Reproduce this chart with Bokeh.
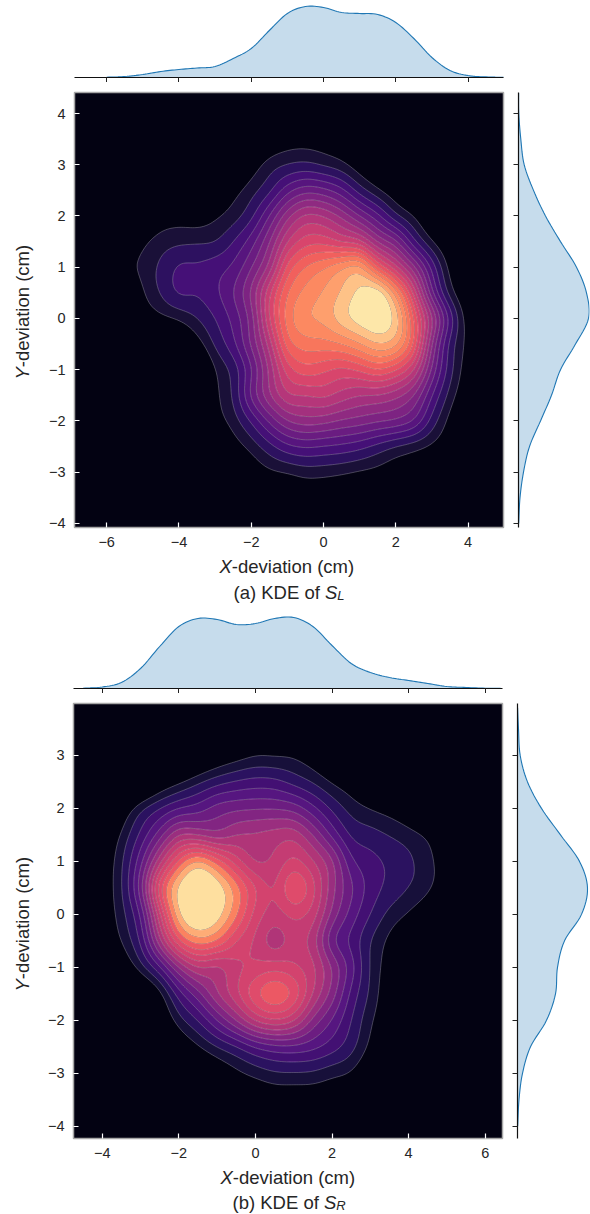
import math
import numpy as np
from bokeh.embed import file_html
from bokeh.layouts import column, row
from bokeh.models import FixedTicker, Label, Range1d, Spacer
from bokeh.plotting import figure
from bokeh.resources import INLINE

# ---- Panel (a): density level at each grid node ----
a_x = [-6,-5.5,-5,-4.5,-4,-3.5,-3,-2.5,-2,-1.5,-1,-.5,0,.5,1,1.5,2,2.5,3,3.5,4,4.5,5]
a_y = [4,3.5,3,2.5,2,1.5,1,.5,0,-.5,-1,-1.5,-2,-2.5,-3,-3.5,-4]
a_levels = [
 [-3,-3,-3,-3,-3,-3,-3,-3,-3,-3,-2.5,-2,-2.5,-3,-3,-3,-3,-3,-3,-3,-3,-3,-3],
 [-3,-3,-3,-3,-3,-3,-3,-3,-1.5,-.5,.2,.35,.1,-.5,-1.5,-2.5,-3,-3,-3,-3,-3,-3,-3],
 [-3,-3,-3,-3,-3,-3,-3,-1.5,.2,1.5,2,2.2,1.8,1.3,.2,-1,-2.5,-3,-3,-3,-3,-3,-3],
 [-3,-3,-3,-3,-3,-2,-.8,.5,1.6,2.7,4.6,5.6,5.3,4.3,2.5,1.2,0,-1.5,-3,-3,-3,-3,-3],
 [-3,-2,-1,0,.3,.2,.8,1.5,2.7,5,7.7,9.3,9,7.8,6,4.3,2.2,1,-1,-3,-3,-3,-3],
 [-2.5,-.8,.7,1.5,1.75,1.85,1.95,3,4.5,6.9,10,11.5,11.6,10.8,10.3,7.8,6.3,3.2,1.1,-.6,-2.5,-3,-3],
 [-1,.4,1.4,2.2,3.2,3.2,3.6,4.2,5.9,8.3,12.4,14.1,14.9,15.9,16.5,13,10.3,7.3,3.7,.6,-1.5,-3,-3],
 [-3,-1.5,.9,2.1,3.2,3.1,3.8,5,7.2,10.8,14,15.3,16.1,17.1,18.3,18.9,15.6,10.8,5.2,1.5,-.5,-2.5,-3],
 [-3,-1.5,-.2,.7,1.2,2,3,4.3,6.4,11,14.5,15.9,16.3,17.6,18.6,19.2,17.7,13,8.3,3.7,.3,-1,-3],
 [-3,-3,-3,-2.5,-1.2,.4,2.2,3.7,6.2,9.4,13.6,14.5,14.6,15,15.9,17,16.4,13,7,2.6,.6,-1.5,-3],
 [-3,-3,-3,-3,-3,-1.5,1,2.3,4.8,8.2,11.5,12.6,12.2,11.7,12.2,13,12.1,10.1,5.8,2.4,.2,-2,-3],
 [-3,-3,-3,-3,-3,-2,.7,2.1,5.3,7.9,9.9,10,10.3,9.6,9,8.9,8.3,7,4,1.6,-.3,-2,-3],
 [-3,-3,-3,-3,-3,-1.5,.3,1.5,3.1,5.2,7,7.6,7.4,6.9,6.6,6.2,5.9,5,2.6,.6,-1.5,-3,-3],
 [-3,-3,-3,-3,-3,-3,-1.5,.3,1.4,2.6,3.7,4.1,3.9,3.7,3.3,2.6,1.9,1.4,.8,-.4,-2.5,-3,-3],
 [-3,-3,-3,-3,-3,-3,-3,-1.5,-.1,.8,1.1,1.45,1.4,1.2,.9,.6,0,-.5,-1.5,-3,-3,-3,-3],
 [-3,-3,-3,-3,-3,-3,-3,-3,-2,-1.5,-1,-.4,-.5,-.8,-1.2,-1.5,-2,-3,-3,-3,-3,-3,-3],
 [-3,-3,-3,-3,-3,-3,-3,-3,-3,-3,-3,-2.5,-2.5,-3,-3,-3,-3,-3,-3,-3,-3,-3,-3],
]
a_fill = ["#1a1038","#2d1160","#451077","#57157e","#6a1c81","#7d2382","#8f2a81","#a3307e","#b5367a",
          "#c83e73","#d8456c","#e75263","#f1605d","#f8765c","#fc8961","#fe9f6d","#fec287","#fde7a9"]

# ---- Panel (b) ----
b_x = [-4.5,-4,-3.5,-3,-2.5,-2,-1.5,-1,-.5,0,.5,1,1.5,2,2.5,3,3.5,4,4.5,5,5.5]
b_y = [4,3.5,3,2.5,2,1.5,1,.5,0,-.5,-1,-1.5,-2,-2.5,-3,-3.5,-4]
b_levels = [
 [-3,-3,-3,-3,-3,-3,-3,-3,-3,-3,-3,-3,-3,-3,-3,-3,-3,-3,-3,-3,-3],
 [-3,-3,-3,-3,-3,-3,-3,-2.5,-2,-1,-1,-1.5,-2.5,-3,-3,-3,-3,-3,-3,-3,-3],
 [-3,-3,-3,-3,-3,-2.5,-1.3,-.3,.4,.95,.9,.85,0,-1.3,-3,-3,-3,-3,-3,-3,-3],
 [-3,-3,-3,-2,-.3,.8,1.8,2.6,3.1,3.4,3.3,2.6,1.9,.9,0,-1.3,-3,-3,-3,-3,-3],
 [-3,-3,-.3,1.8,3,4,4.5,5.5,5.8,5.9,5.9,5.6,4.3,2.8,1.6,1,.4,-.5,-2,-3,-3],
 [-3,-1,1.2,3.2,5.5,8,7.8,7.2,8,8.2,8.5,8.7,7,4.7,2.8,2.4,1.95,1.5,.8,-1,-3],
 [-2,-.2,1.8,4.6,8.6,12.3,14.3,12.6,10.5,8.8,9.2,10.3,9.1,7.3,4.2,3.4,2.8,2.2,1.4,0,-2],
 [-1.5,0,1.9,5.5,11.8,15.3,17,15.8,13.5,11.1,9.9,12.2,10.4,7.4,5.2,3.6,2.7,2,1.3,-.2,-2],
 [-2,-.2,1.6,4,9.8,14.8,16.8,15.6,13.2,10.6,9.6,10.3,9.6,6.7,4.6,3,1.7,.9,-.3,-2,-3],
 [-3,-1,1.1,3.1,7.8,12,13.6,13,11,9.8,8.3,9.4,8.5,5.1,3.7,2,.7,-.7,-2.5,-3,-3],
 [-3,-3,-.5,1.6,3.8,7,9,8.6,9.7,10.2,10.6,10.2,9.3,7,4.5,1.9,.3,-1.5,-3,-3,-3],
 [-3,-3,-3,-1.5,.6,3.5,5.6,8,9.8,11.9,13,11.9,9,6.6,3.7,1.8,-.1,-2,-3,-3,-3],
 [-3,-3,-3,-3,-.7,1.6,3,5,7.1,9.2,10,9.2,6.7,4.9,3,1.2,-.3,-2.5,-3,-3,-3],
 [-3,-3,-3,-3,-2.5,-.5,.9,2,2.85,4,4.6,4.7,4.3,3.5,2.4,.7,-1.2,-3,-3,-3,-3],
 [-3,-3,-3,-3,-3,-3,-1.5,-.3,.7,1.35,1.85,1.9,1.8,1.3,.9,-.7,-2.5,-3,-3,-3,-3],
 [-3,-3,-3,-3,-3,-3,-3,-2,-1,-.5,-.1,-.1,-.1,-.4,-1,-2.2,-3,-3,-3,-3,-3],
 [-3,-3,-3,-3,-3,-3,-3,-3,-3,-2.5,-2,-2,-2,-2.5,-3,-3,-3,-3,-3,-3,-3],
]
b_fill = ["#17103a","#2b1260","#431073","#561680","#6c1d81","#822582","#9a2e7f","#b03578","#c43c73",
          "#d3436e","#df4b6b","#ec5864","#fb8260","#feac76","#fedf9f"]

# ---- Marginal densities (arbitrary density units) ----
a_top_x = [-6,-5.5,-5,-4.5,-4,-3.5,-3,-2.5,-2,-1.5,-1,-.5,0,.5,1,1.5,2,2.5,3,3.5,4,4.5,5]
a_top_d = [.3,1,3,6,8,9.5,11,19,29,47,64,71,70,65,64,63,55,39,20,7,2,.6,.2]
a_right_y = [4.4,4,3.5,3,2.5,2,1.5,1,.5,0,-.5,-1,-1.5,-2,-2.5,-3,-3.5,-4]
a_right_d = [.1,.3,2.3,5.7,15,27,42,58,68,70,57,42,33,22,11,5,1.5,.2]
b_top_x = [-4.5,-4,-3.5,-3,-2.5,-2,-1.5,-1,-.5,0,.5,1,1.5,2,2.5,3,3.5,4,4.5,5,5.5,6,6.4]
b_top_d = [.3,1.5,6,20,42,62,70,69,64,65,70,71,62,43,25,16,11,8,5,2,1,.3,.1]
b_right_y = [3.9,3.5,3,2.5,2,1.5,1,.5,0,-.5,-1,-1.5,-2,-2.5,-3,-3.5,-4]
b_right_d = [.1,1,2.7,10,24,43,62,70,64,47,40,38,29,13,5,1.5,.2]

a_xticks = [-6,-4,-2,0,2,4]
a_yticks = [-4,-3,-2,-1,0,1,2,3,4]
b_xticks = [-4,-2,0,2,4,6]
b_yticks = [-4,-3,-2,-1,0,1,2,3]

FONT = "Liberation Sans"
TEXT = "#262626"
BG = "#030212"
CURVE = "#1f77b4"
FILL = "#c6dcec"


def smooth(v, k=8):
    v = np.asarray(v, float)
    p = np.concatenate([[2 * v[0] - v[1]], v, [2 * v[-1] - v[-2]]])
    t = (np.arange(k) / k)[:, None]
    p0, p1, p2, p3 = p[:-3], p[1:-2], p[2:-1], p[3:]
    out = 0.5 * (2 * p1 + (p2 - p0) * t + (2 * p0 - 5 * p1 + 4 * p2 - p3) * t ** 2
                 + (3 * p1 - p0 - 3 * p2 + p3) * t ** 3)
    return np.concatenate([out.T.ravel(), [v[-1]]])


def soften(v, sigma=2.3):
    """Removes the reading noise of the hand-read grid, so that the contours are drawn smooth."""
    r = int(3 * sigma)
    g = np.exp(-0.5 * (np.arange(-r, r + 1) / sigma) ** 2)
    g /= g.sum()
    return np.convolve(np.pad(v, r, mode="edge"), g, mode="valid")


def ticks(ax, values, labels=True):
    ax.ticker = FixedTicker(ticks=values)
    if labels:
        ax.major_label_overrides = {v: str(v).replace("-", "\u2212") for v in values}
    else:
        ax.major_label_overrides = {v: "" for v in values}
    ax.minor_tick_line_color = None
    ax.major_label_text_font = FONT
    ax.major_label_text_font_size = "14.5px"
    ax.major_label_text_color = TEXT


def text(p, s, x, y, size=18.5, style="normal", angle=0.0):
    p.add_layout(Label(x=x, y=y, x_units="screen", y_units="screen", text=s, text_font=FONT,
                       text_font_size=f"{size}px", text_font_style=style, text_color=TEXT,
                       text_align="left", text_baseline="alphabetic", angle=angle))


def strip(width, height):
    """A figure without axes whose frame is its whole canvas: it only carries texts."""
    p = figure(width=width, height=height, x_range=Range1d(0, width), y_range=Range1d(0, height),
               output_backend="svg", toolbar_location=None, x_axis_location=None, y_axis_location=None,
               min_border=0)
    p.grid.visible = False
    p.outline_line_color = None
    return p


def y_strip(width, height, start):
    p = strip(width, height)
    text(p, "Y", 22, start, style="italic", angle=math.pi / 2)
    text(p, "-deviation (cm)", 22, start + 12.3, angle=math.pi / 2)
    return p


def caption_strip(width, height, x_left, cap_left, base1, base2, tag, sub):
    p = strip(width, height)
    text(p, "X", x_left, base1, style="italic")
    text(p, "-deviation (cm)", x_left + 12.3, base1)
    text(p, f"({tag}) KDE of ", cap_left, base2)
    text(p, "S", cap_left + 91.5, base2, style="italic")
    text(p, sub, cap_left + 103.8, base2 - 3, size=13, style="italic")
    return p


def main_panel(x, y, z, fills, xr, yr, xt, yt, left, right, bottom):
    p = figure(width=left + 429 + right, height=10 + 435 + bottom, x_range=Range1d(*xr), y_range=Range1d(*yr),
               output_backend="svg", toolbar_location=None, min_border_left=left, min_border_right=right,
               min_border_top=10, min_border_bottom=bottom)
    p.grid.visible = False
    p.background_fill_color = BG
    p.border_fill_color = "white"
    p.outline_line_color = "#a6a6a6"
    p.outline_line_width = 1.5
    xs, ys = smooth(x), smooth(y[::-1])
    zz = np.array(z, float)[::-1]
    zz = np.apply_along_axis(smooth, 1, zz)
    zz = np.apply_along_axis(smooth, 0, zz)
    zz = np.apply_along_axis(soften, 1, zz)
    zz = np.apply_along_axis(soften, 0, zz)
    levels = list(range(1, len(fills) + 1)) + [100]
    p.contour(xs, ys, zz, levels, fill_color=fills, line_color="white", line_alpha=0.42, line_width=0.6)
    for ax, t in ((p.xaxis[0], xt), (p.yaxis[0], yt)):
        ticks(ax, t)
        ax.axis_line_color = None
        ax.major_tick_in = 5
        ax.major_tick_out = 0
        ax.major_tick_line_color = "white"
        ax.major_tick_line_width = 1.2
        ax.major_label_standoff = 9
    return p


def top_panel(x, d, xr, xt, left, right, height):
    p = figure(width=left + 429 + right, height=height + 5, x_range=Range1d(*xr), y_range=Range1d(0, height),
               output_backend="svg", toolbar_location=None, y_axis_location=None, min_border_left=left,
               min_border_right=right, min_border_top=0, min_border_bottom=5)
    p.grid.visible = False
    p.outline_line_color = None
    xs, ds = smooth(x), np.maximum(smooth(d), 0)
    p.varea(xs, 0, ds, fill_color=FILL)
    p.line(xs, ds, line_color=CURVE, line_width=1.1)
    ax = p.xaxis[0]
    ticks(ax, xt, labels=False)
    ax.major_label_standoff = 0
    ax.major_tick_in = 0
    ax.major_tick_out = 5
    ax.major_tick_line_color = "#222222"
    ax.axis_line_color = "#111111"
    ax.axis_line_width = 1.2
    return p


def right_panel(y, d, yr, yt, left, right, bottom, span):
    p = figure(width=left + span + right, height=10 + 435 + bottom, x_range=Range1d(0, span), y_range=Range1d(*yr),
               output_backend="svg", toolbar_location=None, x_axis_location=None, min_border_left=left,
               min_border_right=right, min_border_top=10, min_border_bottom=bottom)
    p.grid.visible = False
    p.outline_line_color = None
    ys, ds = smooth(y), np.maximum(smooth(d), 0)
    p.harea(x1=0, x2=ds, y=ys, fill_color=FILL)
    p.line(ds, ys, line_color=CURVE, line_width=1.1)
    ax = p.yaxis[0]
    ticks(ax, yt, labels=False)
    ax.major_label_standoff = 0
    ax.major_tick_in = 0
    ax.major_tick_out = 5
    ax.major_tick_line_color = "#222222"
    ax.axis_line_color = "#111111"
    ax.axis_line_width = 1.2
    return p


a_xr, a_yr = (-6.89, 4.98), (-4.08, 4.41)
b_xr, b_yr = (-4.75, 6.45), (-4.23, 3.98)

top_a = top_panel(a_top_x, a_top_d, a_xr, a_xticks, 74, 7, 77)
ylab_a = y_strip(36, 471, 148)
main_a = main_panel(a_x, a_y, a_levels, a_fill, a_xr, a_yr, a_xticks, a_yticks, 38, 7, 26)
right_a = right_panel(a_right_y, a_right_d, a_yr, a_yticks, 8, 1, 26, 71)
cap_a = caption_strip(590, 55, 219, 233, 42, 16, "a", "L")
top_b = top_panel(b_top_x, b_top_d, b_xr, b_xticks, 73, 8, 80)
ylab_b = y_strip(36, 471, 147)
main_b = main_panel(b_x, b_y, b_levels, b_fill, b_xr, b_yr, b_xticks, b_yticks, 37, 8, 26)
right_b = right_panel(b_right_y, b_right_d, b_yr, b_yticks, 7, 2, 26, 71)
cap_b = caption_strip(590, 50, 220, 232, 37, 12, "b", "R")

root = column(
    row(top_a, Spacer(width=80, height=82)),
    row(ylab_a, main_a, right_a),
    cap_a,
    row(top_b, Spacer(width=80, height=85)),
    row(ylab_b, main_b, right_b),
    cap_b,
)

open("out.html", "w").write(file_html(root, INLINE))
